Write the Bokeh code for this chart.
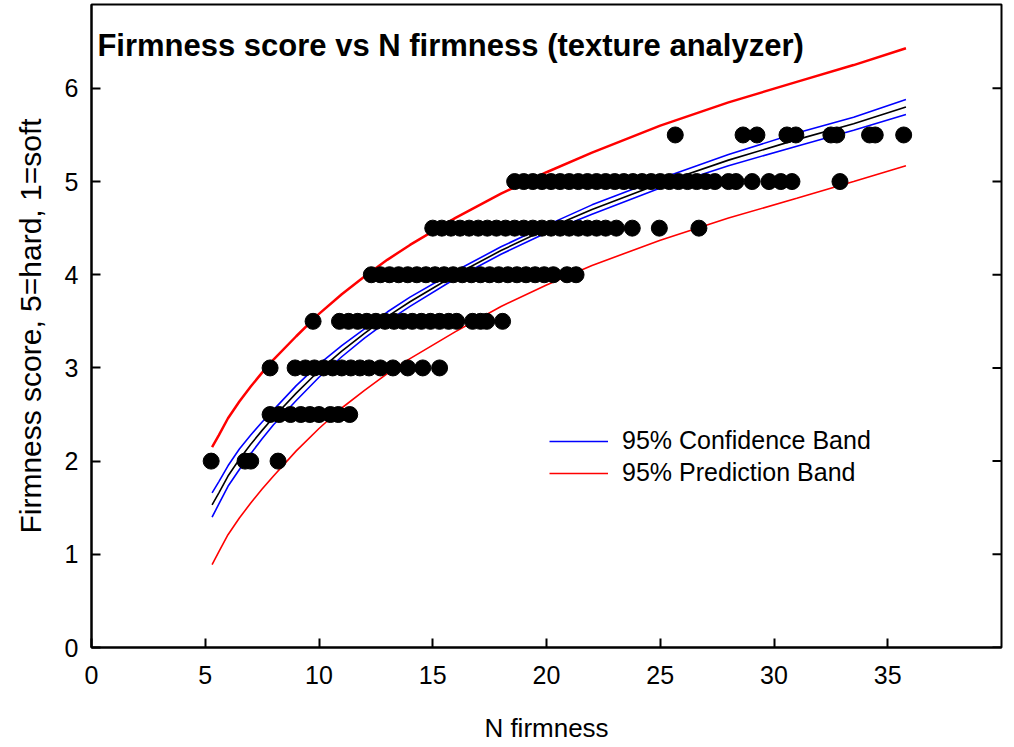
from bokeh.plotting import figure
from bokeh.models import (Range1d, FixedTicker, LinearAxis, Label, Legend, LegendItem)
from bokeh.embed import file_html
from bokeh.resources import INLINE

# ---------------- data ----------------
score_levels = [2.0, 2.5, 3.0, 3.5, 4.0, 4.5, 5.0, 5.5]

firm_at_2_0 = [5.26, 6.75, 7.0, 8.2]
firm_at_2_5 = [7.85, 8.25, 8.75, 9.2, 9.6, 10.0, 10.5, 10.85, 11.35]
firm_at_3_0 = [7.85, 8.95, 9.4, 9.8, 10.2, 10.6, 11.0, 11.4, 11.8, 12.2, 12.7,
               13.25, 13.9, 14.56, 15.3]
firm_at_3_5 = [9.74, 10.9, 11.3, 11.7, 12.1, 12.5, 12.9, 13.3, 13.7, 14.1, 14.5,
               14.9, 15.3, 15.7, 16.05, 16.75, 17.1, 17.37, 18.07]
firm_at_4_0 = [12.3, 12.7, 13.1, 13.5, 13.9, 14.3, 14.7, 15.1, 15.5, 15.9, 16.3,
               16.7, 17.1, 17.5, 17.9, 18.3, 18.7, 19.1, 19.5, 19.9, 20.3, 20.9, 21.3]
firm_at_4_5 = [15.0, 15.4, 15.8, 16.2, 16.6, 17.0, 17.4, 17.8, 18.2, 18.6, 19.0,
               19.4, 19.8, 20.2, 20.6, 21.0, 21.4, 21.8, 22.2, 22.6, 23.07, 23.77,
               24.96, 26.7]
firm_at_5_0 = [18.6, 19.0, 19.4, 19.8, 20.2, 20.6, 21.0, 21.4, 21.8, 22.2, 22.6,
               23.0, 23.4, 23.8, 24.2, 24.6, 25.0, 25.4, 25.8, 26.2, 26.6, 27.0,
               27.4, 28.0, 28.33, 29.04, 29.78, 30.3, 30.79, 32.9]
firm_at_5_5 = [25.66, 28.64, 29.25, 30.57, 30.96, 32.5, 32.76, 34.2, 34.45, 35.7]

firm_groups = [firm_at_2_0, firm_at_2_5, firm_at_3_0, firm_at_3_5,
               firm_at_4_0, firm_at_4_5, firm_at_5_0, firm_at_5_5]

# regression curve and bands
curve_x = [5.3, 5.6, 6, 6.5, 7, 7.5, 8, 9, 10, 11, 12, 13, 14, 16, 18, 20, 22,
           25, 28, 31, 33.5, 35.8]
fit_y = [1.53, 1.66, 1.84, 2.02, 2.18, 2.33, 2.47, 2.73, 2.97, 3.18, 3.37, 3.55,
         3.71, 4.00, 4.26, 4.49, 4.70, 4.98, 5.23, 5.45, 5.62, 5.80]
conf_upper = [1.66, 1.78, 1.95, 2.13, 2.28, 2.42, 2.55, 2.81, 3.04, 3.24, 3.42,
              3.60, 3.76, 4.04, 4.30, 4.53, 4.75, 5.03, 5.29, 5.52, 5.69, 5.88]
conf_lower = [1.40, 1.54, 1.73, 1.91, 2.08, 2.24, 2.39, 2.65, 2.90, 3.12, 3.32,
              3.50, 3.66, 3.96, 4.22, 4.45, 4.65, 4.93, 5.17, 5.38, 5.55, 5.72]
pred_upper = [2.15, 2.28, 2.46, 2.64, 2.80, 2.95, 3.09, 3.34, 3.58, 3.79, 3.98,
              4.16, 4.32, 4.61, 4.87, 5.10, 5.31, 5.60, 5.85, 6.07, 6.25, 6.43]
pred_lower = [0.89, 1.03, 1.21, 1.39, 1.55, 1.70, 1.84, 2.11, 2.35, 2.57, 2.76,
              2.94, 3.10, 3.39, 3.66, 3.89, 4.10, 4.37, 4.61, 4.82, 5.00, 5.17]

x_ticks = [0, 5, 10, 15, 20, 25, 30, 35]
y_ticks = [0, 1, 2, 3, 4, 5, 6]
x_max = 40
y_max = 6.9

title_text = "Firmness score vs N firmness (texture analyzer)"
x_label = "N firmness"
y_label = "Firmness score, 5=hard, 1=soft"
legend_labels = ["95% Confidence Band", "95% Prediction Band"]

# flatten scatter points
pts_x, pts_y = [], []
for lvl, grp in zip(score_levels, firm_groups):
    pts_x.extend(grp)
    pts_y.extend([lvl] * len(grp))

FONT = "Liberation Sans"

p = figure(width=1008, height=745, output_backend="svg", toolbar_location=None,
           x_range=Range1d(0, x_max), y_range=Range1d(0, y_max),
           min_border_left=91, min_border_right=7, min_border_top=4,
           min_border_bottom=10)
p.xaxis.visible = False
p.yaxis.visible = False
p.xgrid.visible = False
p.ygrid.visible = False
p.outline_line_color = "black"
p.outline_line_width = 2
p.background_fill_color = "white"
p.border_fill_color = "white"


def style_axis(ax):
    ax.axis_line_width = 2
    ax.major_tick_line_width = 2
    ax.major_tick_in = 9
    ax.major_tick_out = 0
    ax.minor_tick_line_color = None
    ax.major_label_text_font = FONT
    ax.major_label_text_font_size = "25px"
    ax.major_label_text_color = "black"
    ax.axis_label_text_font = FONT
    ax.axis_label_text_font_style = "normal"
    ax.axis_label_text_color = "black"


xb = LinearAxis(ticker=FixedTicker(ticks=x_ticks), axis_label=x_label)
style_axis(xb)
xb.axis_label_text_font_size = "26px"
xb.major_label_standoff = 18
xb.axis_label_standoff = 26
p.add_layout(xb, "below")

yl = LinearAxis(ticker=FixedTicker(ticks=y_ticks), axis_label=y_label)
style_axis(yl)
yl.axis_label_text_font_size = "30px"
yl.major_label_standoff = 13
yl.axis_label_standoff = 15
p.add_layout(yl, "left")

# inward ticks on the right frame edge (half of each dash is clipped away)
p.scatter([x_max] * len(y_ticks), y_ticks, marker="dash", size=18,
          line_color="black", line_width=2, angle=0)

# bands and fit
r_pu = p.line(curve_x, pred_upper, line_color="red", line_width=2.5)
r_pl = p.line(curve_x, pred_lower, line_color="red", line_width=1.6)
r_cu = p.line(curve_x, conf_upper, line_color="blue", line_width=1.6)
r_cl = p.line(curve_x, conf_lower, line_color="blue", line_width=1.6)
p.line(curve_x, fit_y, line_color="black", line_width=1.6)

p.scatter(pts_x, pts_y, size=16, marker="circle", fill_color="black",
          line_color="black")

legend = Legend(items=[LegendItem(label=legend_labels[0], renderers=[r_cu]),
                       LegendItem(label=legend_labels[1], renderers=[r_pl])],
                location=(458, 160), glyph_width=59, glyph_height=20,
                label_height=20, spacing=3, label_standoff=14, padding=0,
                margin=0, border_line_alpha=0, background_fill_alpha=0,
                label_text_font=FONT, label_text_font_size="25px",
                label_text_color="black")
p.add_layout(legend, "center")

title = Label(x=0.26, y=6.46, text=title_text, text_font=FONT,
              text_font_size="31px", text_font_style="bold",
              text_baseline="middle", text_align="left", text_color="black")
p.add_layout(title)

open("out.html", "w").write(file_html(p, INLINE))
